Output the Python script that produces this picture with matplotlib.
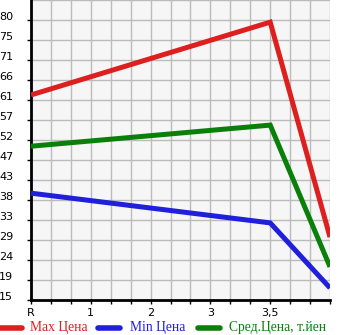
import matplotlib
matplotlib.use("Agg")
import matplotlib.pyplot as plt
import matplotlib.transforms as mtransforms
import numpy as np

# chart data
x_pos = [0, 4, 5]
max_price = [62.6, 79.5, 29.6]
min_price = [39.8, 32.9, 17.8]
avg_price = [50.7, 55.6, 22.7]

x_ticks = [0, 1, 2, 3, 4]
x_labels = ['R', '1', '2', '3', '3,5']
y_labels = ['15', '19', '24', '29', '33', '38', '43', '47', '52', '57',
            '61', '66', '71', '75', '80']

y_min, y_max = 15, 80
y_step = (y_max - y_min) / 14
y_top = y_min + 300 * (y_max - y_min) / 280

fig = plt.figure(figsize=(3.45, 3.35), dpi=100)
ax = fig.add_axes([31 / 345, 35 / 335, 299 / 345, 300 / 335])
ax.set_facecolor('#f6f6f6')

series = [
    (max_price, '#dd1f1f', 'Max Цена'),
    (min_price, '#1f1fdd', 'Min Цена'),
    (avg_price, '#0a800a', 'Сред.Цена, т.йен'),
]
for vals, col, lab in series:
    ax.plot(x_pos, vals, color=col, lw=3.6, solid_capstyle='butt',
            solid_joinstyle='miter', zorder=3)

ax.set_xlim(0, 5)
ax.set_ylim(y_min, y_top)

yt = [y_min + i * y_step for i in range(len(y_labels))]
ax.set_yticks(yt)
ax.set_yticklabels(y_labels, fontsize=8, family='DejaVu Sans', ha='left')
ax.set_xticks(x_ticks)
ax.set_xticklabels(x_labels, fontsize=8, family='DejaVu Sans')
ax.set_xticks(np.arange(0, 5.01, 1 / 3), minor=True)
ax.set_yticks(yt + [y_top], minor=True)

ax.grid(True, which='both', color='#bbbbbb', lw=1.0)
ax.set_axisbelow(True)
ax.tick_params(axis='both', which='both', direction='out', length=3,
               width=1, color='black')
ax.tick_params(axis='y', which='major', pad=20)
ax.tick_params(axis='y', which='minor', length=0)
ax.tick_params(axis='x', which='major', pad=3)

offset = mtransforms.ScaledTranslation(0, 3 / 72, fig.dpi_scale_trans)
for lbl in ax.get_yticklabels():
    lbl.set_transform(lbl.get_transform() + offset)

for side in ['top', 'right']:
    ax.spines[side].set_visible(False)
for side in ['left', 'bottom']:
    ax.spines[side].set_linewidth(2)
    ax.spines[side].set_color('black')

# legend
leg_items = [(0, 30, '#dd1f1f', 'Max Цена'),
             (98, 130, '#1f1fdd', 'Min Цена'),
             (198, 229, '#0a800a', 'Сред.Цена, т.йен')]
for hx, tx, col, lab in leg_items:
    fig.add_artist(plt.Line2D([hx / 345, (hx + 22) / 345], [1 - 328 / 335] * 2,
                              color=col, lw=4, solid_capstyle='round',
                              transform=fig.transFigure))
    fig.text(tx / 345, 1 - 328 / 335, lab, color=col, fontsize=9.8,
             family='Liberation Serif', va='center', ha='left')

fig.savefig('out.png', dpi=100)
